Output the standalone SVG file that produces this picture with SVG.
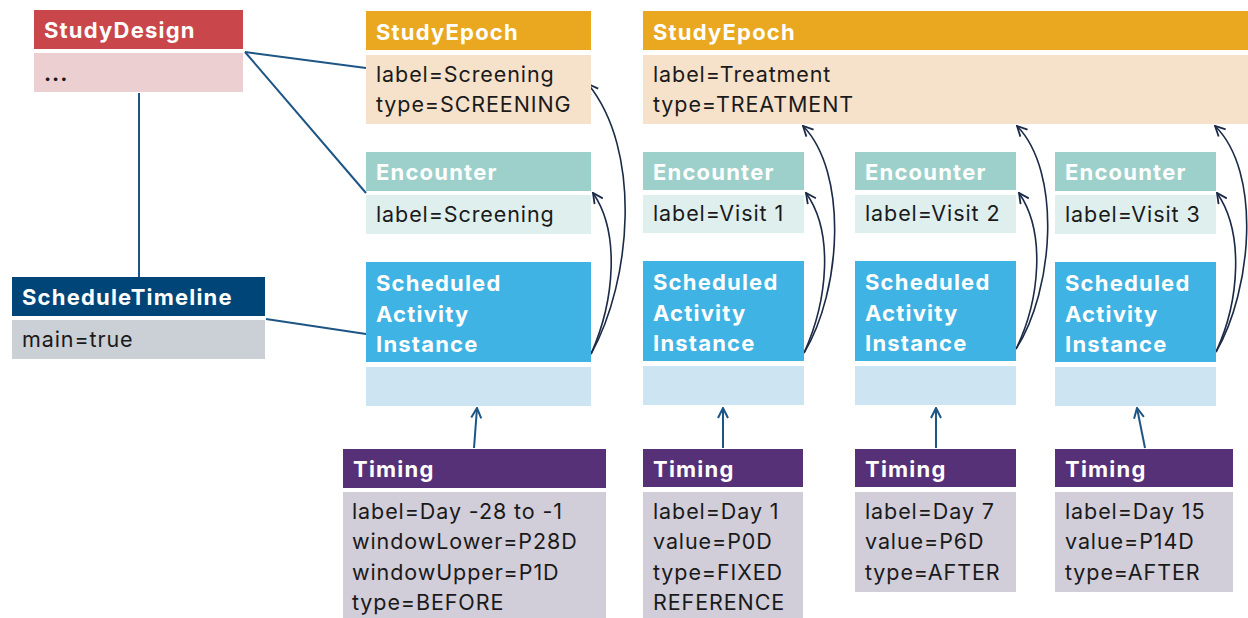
<svg xmlns="http://www.w3.org/2000/svg" width="1248" height="618" viewBox="0 0 1248 618">
<defs>
<style>
.ht{font-family:Inter,"Liberation Sans",sans-serif;font-weight:700;font-size:22px;fill:#ffffff;letter-spacing:1.2px}
.bt{font-family:Inter,"Liberation Sans",sans-serif;font-size:21.5px;fill:#1a1a1a;letter-spacing:0.9px}
.sdH{fill:#c9474a}.sdB{fill:#ebcfd1}
.epH{fill:#e9a820}.epB{fill:#f6e1cb}
.enH{fill:#9dd0ca}.enB{fill:#dfefee}
.saH{fill:#3fb3e3}.saB{fill:#cde4f3}
.tmH{fill:#563177}.tmB{fill:#d1cdd9}
.stH{fill:#004577}.stB{fill:#cbcfd6}
.assoc{stroke:#1d5585;stroke-width:2;fill:none}
.ref{stroke:#1b2a47;stroke-width:1.6;fill:none;marker-end:url(#open)}
.tim{stroke:#1d5585;stroke-width:2;fill:none;marker-end:url(#openb)}
</style>
<marker id="open" viewBox="0 0 12 12" refX="11" refY="6" markerWidth="12" markerHeight="12" markerUnits="userSpaceOnUse" orient="auto">
<path d="M1,1 L11,6 L1,11" fill="none" stroke="#1b2a47" stroke-width="1.8"/>
</marker>
<marker id="openb" viewBox="0 0 12 12" refX="11" refY="6" markerWidth="12" markerHeight="12" markerUnits="userSpaceOnUse" orient="auto">
<path d="M1,1 L11,6 L1,11" fill="none" stroke="#1d5585" stroke-width="2"/>
</marker>
</defs>
<rect width="1248" height="618" fill="#ffffff"/>

<g id="connectors">
<line class="assoc" x1="245" y1="52" x2="366" y2="68"/>
<line class="assoc" x1="245" y1="52" x2="366" y2="193"/>
<line class="assoc" x1="139" y1="93" x2="139" y2="277"/>
<line class="assoc" x1="266" y1="319" x2="366" y2="334"/>
<path class="tim" d="M474,448 L477,408"/>
<path class="tim" d="M723,448 L723,408"/>
<path class="tim" d="M936,448 L936,408"/>
<path class="tim" d="M1145,448 L1137,408"/>
<path class="ref" d="M591,354 C615,300 620,232 593,193"/>
<path class="ref" d="M591,354 C632,280 642,150 588,84"/>
<path class="ref" d="M804,353 C828,300 834,232 806,193"/>
<path class="ref" d="M804,353 C842,290 848,172 803,126"/>
<path class="ref" d="M1016,349 C1040,300 1046,232 1019,193"/>
<path class="ref" d="M1016,349 C1054,290 1062,172 1017,126"/>
<path class="ref" d="M1216,352 C1240,300 1244,232 1217,193"/>
<path class="ref" d="M1216,352 C1252,290 1262,172 1215,126"/>
</g>

<g id="studyDesign">
<rect class="sdH" x="34" y="10" width="209" height="39"/>
<rect class="sdB" x="34" y="53" width="209" height="39"/>
<text class="ht" x="44" y="38">StudyDesign</text>
<text class="bt" x="44" y="81" font-weight="700">...</text>
</g>

<g id="scheduleTimeline">
<rect class="stH" x="12" y="277" width="253" height="39"/>
<rect class="stB" x="12" y="320" width="253" height="39"/>
<text class="ht" x="22" y="305">ScheduleTimeline</text>
<text class="bt" x="22" y="347">main=true</text>
</g>

<g id="epochScreening">
<rect class="epH" x="366" y="11" width="225" height="39"/>
<rect class="epB" x="366" y="55" width="225" height="69"/>
<text class="ht" x="376" y="40">StudyEpoch</text>
<text class="bt" x="376" y="82">label=Screening</text>
<text class="bt" x="376" y="112">type=SCREENING</text>
</g>

<g id="epochTreatment">
<rect class="epH" x="643" y="11" width="605" height="39"/>
<rect class="epB" x="643" y="55" width="605" height="69"/>
<text class="ht" x="653" y="40">StudyEpoch</text>
<text class="bt" x="653" y="82">label=Treatment</text>
<text class="bt" x="653" y="112">type=TREATMENT</text>
</g>

<g id="encounterScreening">
<rect class="enH" x="366" y="152" width="225" height="39"/>
<rect class="enB" x="366" y="195" width="225" height="39"/>
<text class="ht" x="376" y="180">Encounter</text>
<text class="bt" x="376" y="222">label=Screening</text>
</g>
<g id="encounterVisit1">
<rect class="enH" x="643" y="152" width="161" height="38"/>
<rect class="enB" x="643" y="195" width="161" height="38"/>
<text class="ht" x="653" y="180">Encounter</text>
<text class="bt" x="653" y="221">label=Visit 1</text>
</g>
<g id="encounterVisit2">
<rect class="enH" x="855" y="152" width="161" height="38"/>
<rect class="enB" x="855" y="195" width="161" height="38"/>
<text class="ht" x="865" y="180">Encounter</text>
<text class="bt" x="865" y="221">label=Visit 2</text>
</g>
<g id="encounterVisit3">
<rect class="enH" x="1055" y="152" width="161" height="39"/>
<rect class="enB" x="1055" y="195" width="161" height="39"/>
<text class="ht" x="1065" y="180">Encounter</text>
<text class="bt" x="1065" y="222">label=Visit 3</text>
</g>

<g id="saiScreening">
<rect class="saH" x="366" y="262" width="225" height="100"/>
<rect class="saB" x="366" y="367" width="225" height="39"/>
<text class="ht" x="376" y="291">Scheduled</text>
<text class="ht" x="376" y="322">Activity</text>
<text class="ht" x="376" y="352">Instance</text>
</g>
<g id="saiVisit1">
<rect class="saH" x="643" y="261" width="161" height="100"/>
<rect class="saB" x="643" y="366" width="161" height="39"/>
<text class="ht" x="653" y="290">Scheduled</text>
<text class="ht" x="653" y="321">Activity</text>
<text class="ht" x="653" y="351">Instance</text>
</g>
<g id="saiVisit2">
<rect class="saH" x="855" y="261" width="161" height="100"/>
<rect class="saB" x="855" y="366" width="161" height="39"/>
<text class="ht" x="865" y="290">Scheduled</text>
<text class="ht" x="865" y="321">Activity</text>
<text class="ht" x="865" y="351">Instance</text>
</g>
<g id="saiVisit3">
<rect class="saH" x="1055" y="262" width="161" height="100"/>
<rect class="saB" x="1055" y="367" width="161" height="39"/>
<text class="ht" x="1065" y="291">Scheduled</text>
<text class="ht" x="1065" y="322">Activity</text>
<text class="ht" x="1065" y="352">Instance</text>
</g>

<g id="timingScreening">
<rect class="tmH" x="343" y="449" width="263" height="39"/>
<rect class="tmB" x="343" y="492" width="263" height="130"/>
<text class="ht" x="353" y="477">Timing</text>
<text class="bt" x="352" y="519">label=Day -28 to -1</text>
<text class="bt" x="352" y="549">windowLower=P28D</text>
<text class="bt" x="352" y="580">windowUpper=P1D</text>
<text class="bt" x="352" y="610">type=BEFORE</text>
</g>
<g id="timingDay1">
<rect class="tmH" x="643" y="449" width="160" height="38"/>
<rect class="tmB" x="643" y="492" width="160" height="130"/>
<text class="ht" x="653" y="477">Timing</text>
<text class="bt" x="653" y="519">label=Day 1</text>
<text class="bt" x="653" y="549">value=P0D</text>
<text class="bt" x="653" y="580">type=FIXED</text>
<text class="bt" x="653" y="610">REFERENCE</text>
</g>
<g id="timingDay7">
<rect class="tmH" x="855" y="449" width="161" height="38"/>
<rect class="tmB" x="855" y="492" width="161" height="100"/>
<text class="ht" x="865" y="477">Timing</text>
<text class="bt" x="865" y="519">label=Day 7</text>
<text class="bt" x="865" y="549">value=P6D</text>
<text class="bt" x="865" y="580">type=AFTER</text>
</g>
<g id="timingDay15">
<rect class="tmH" x="1055" y="449" width="178" height="38"/>
<rect class="tmB" x="1055" y="492" width="178" height="100"/>
<text class="ht" x="1065" y="477">Timing</text>
<text class="bt" x="1065" y="519">label=Day 15</text>
<text class="bt" x="1065" y="549">value=P14D</text>
<text class="bt" x="1065" y="580">type=AFTER</text>
</g>
</svg>
